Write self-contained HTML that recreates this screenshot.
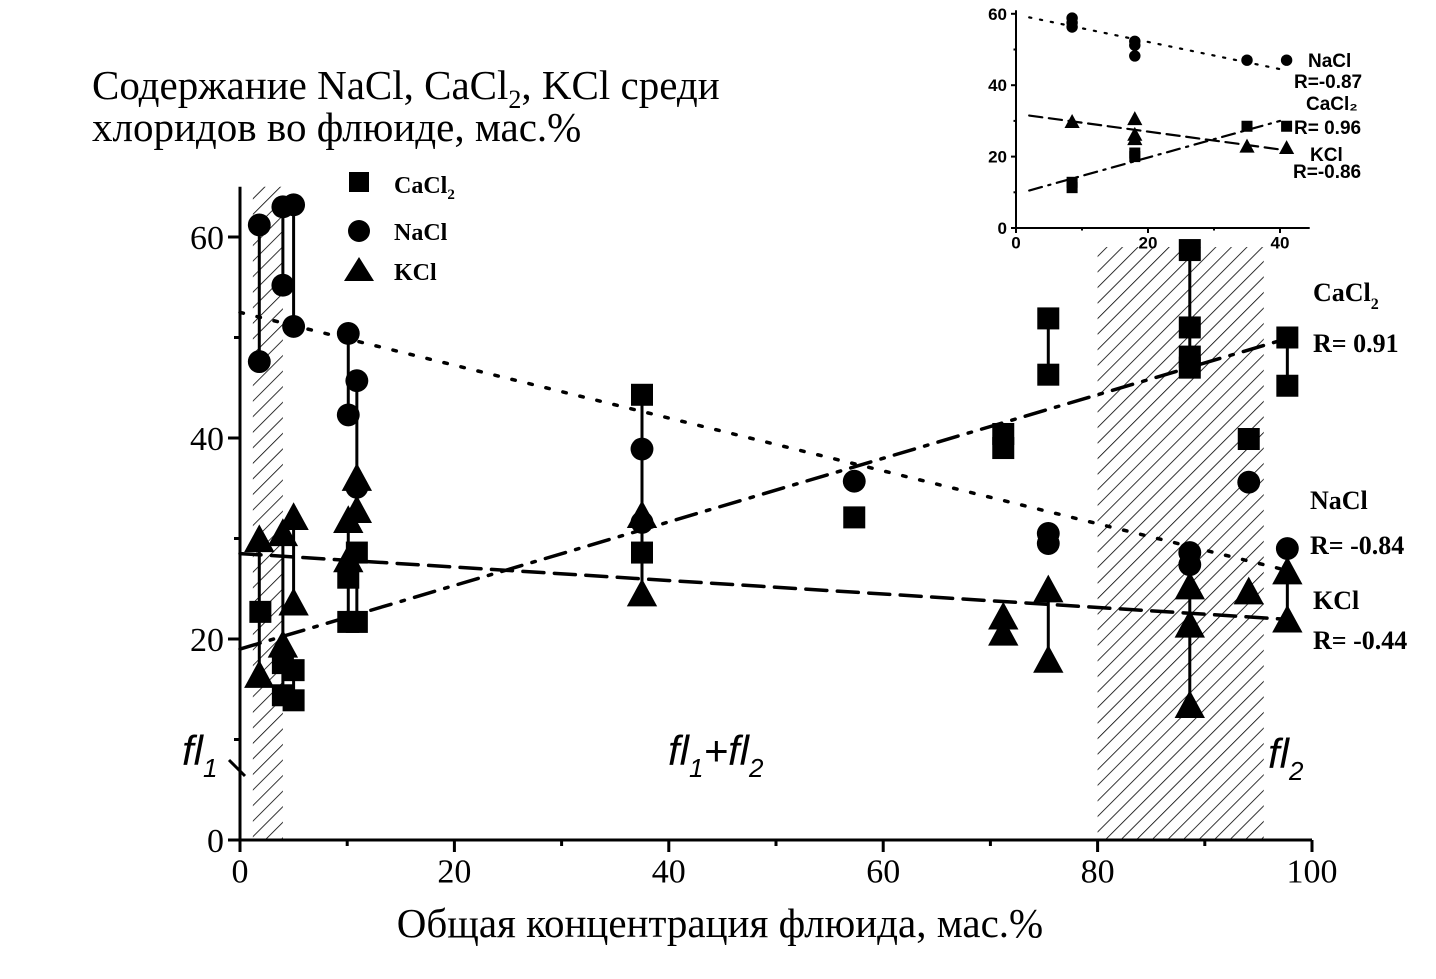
<!DOCTYPE html>
<html><head><meta charset="utf-8"><style>
html,body{margin:0;padding:0;background:#fff;}
svg{display:block;}
.ser{font-family:"Liberation Serif",serif;}
.bold{font-family:"Liberation Serif",serif;font-weight:bold;}
.sb{font-family:"Liberation Sans",sans-serif;font-weight:bold;}
.fl{font-family:"Liberation Sans",sans-serif;font-style:italic;}
</style></head><body>
<svg id="chart" width="1436" height="979" viewBox="0 0 1436 979" xmlns="http://www.w3.org/2000/svg">
<defs>
<pattern id="hatch" patternUnits="userSpaceOnUse" width="11" height="11" patternTransform="rotate(45)">
<line x1="0" y1="0" x2="0" y2="11" stroke="#000" stroke-width="1.6"/>
</pattern>
</defs>
<g id="main"></g>
<g id="inset"></g>
<text class="ser" x="92" y="99" font-size="41">Содержание NaCl, CaCl<tspan font-size="26" dy="9">2</tspan><tspan dy="-9">, KCl среди</tspan></text>
<text class="ser" x="92" y="141" font-size="41">хлоридов во флюиде, мас.%</text>
<text class="ser" x="720" y="937" font-size="41" text-anchor="middle">Общая концентрация флюида, мас.%</text>
<text class="bold" x="394" y="193" font-size="24">CaCl<tspan font-size="15" dy="6">2</tspan></text>
<text class="bold" x="394" y="240" font-size="24">NaCl</text>
<text class="bold" x="394" y="280" font-size="24">KCl</text>
<text class="bold" x="1313" y="301" font-size="26">CaCl<tspan font-size="16" dy="8">2</tspan></text>
<text class="bold" x="1313" y="352" font-size="26">R= 0.91</text>
<text class="bold" x="1310" y="509" font-size="26">NaCl</text>
<text class="bold" x="1310" y="554" font-size="26">R= -0.84</text>
<text class="bold" x="1313" y="609" font-size="26">KCl</text>
<text class="bold" x="1313" y="649" font-size="26">R= -0.44</text>
<text class="fl" x="182" y="765" font-size="42">fl<tspan font-size="26" dy="12">1</tspan></text>
<line x1="229" y1="760" x2="245" y2="776" stroke="#000" stroke-width="3"/>
<text class="fl" x="668" y="765" font-size="42">fl<tspan font-size="26" dy="12">1</tspan><tspan dy="-12">+fl</tspan><tspan font-size="26" dy="12">2</tspan></text>
<text class="fl" x="1268" y="768" font-size="42">fl<tspan font-size="26" dy="12">2</tspan></text>
</svg>
<script>
// Main chart data
const naclX = [1.8,1.8,4.0,4.0,5.0,5.0,10.1,10.1,10.9,10.9,37.5,37.5,57.3,75.4,75.4,88.6,88.6,94.1,97.7];
const naclY = [61.2,47.6,63,55.2,63.2,51.1,50.4,42.3,45.7,35.1,38.9,31.6,35.7,30.5,29.5,28.6,27.4,35.6,29.0];
const caclX = [1.9,4.0,4.0,5.0,5.0,10.1,10.1,10.9,10.9,37.5,37.5,57.3,71.2,71.2,75.4,75.4,88.6,88.6,88.6,88.6,94.1,97.7,97.7];
const caclY = [22.7,17.6,14.4,16.9,13.9,26.1,21.7,28.6,21.7,44.3,28.6,32.1,40.4,39.0,51.9,46.3,58.7,51.0,48.1,47.0,39.9,50.0,45.2];
const kclX = [1.8,1.8,4.0,4.0,5.0,5.0,10.1,10.1,10.9,10.9,37.5,37.5,71.2,71.2,75.4,75.4,88.6,88.6,88.6,94.1,97.7,97.7];
const kclY = [29.9,16.4,30.5,19.4,32.1,23.6,31.8,27.9,36.0,32.8,32.3,24.5,22.2,20.6,24.9,17.9,25.2,21.4,13.4,24.7,26.7,21.9];
const naclTrend = [[0,52.5],[97,27]];
const caclTrend = [[0,19],[98,50]];
const kclTrend = [[0,28.5],[97,22]];
const xTicks = [0,20,40,60,80,100];
const yTicks = [0,20,40,60];
const hatchRanges = [[1.2,4.0,65],[80,95.5,59]];
// Inset data
const inNaclX = [8.5,8.5,8.5,18,18,18,35,41];
const inNaclY = [58.8,57.5,56.3,52.3,51.2,48.2,47,47];
const inCaclX = [8.5,8.5,18,18,35,41];
const inCaclY = [12.8,11.3,21,20,28.5,28.5];
const inKclX = [8.5,18,18,18,35,41];
const inKclY = [29.8,30.6,26.2,25,22.9,22.5];
const inNaclTrend = [[2,59],[40,44.5]];
const inCaclTrend = [[2,10.5],[40,30]];
const inKclTrend = [[2,31.5],[40,22]];
const inXTicks = [0,20,40];
const inYTicks = [0,20,40,60];

const NS="http://www.w3.org/2000/svg";
function mk(parent,tag,attrs){const e=document.createElementNS(NS,tag);for(const k in attrs)e.setAttribute(k,attrs[k]);parent.appendChild(e);return e;}

function drawPlot(g,cfg){
  const X=v=>cfg.x0+v*cfg.sx, Y=v=>cfg.y0-v*cfg.sy;
  (cfg.hatch||[]).forEach(h=>{
    const r=mk(g,'rect',{x:X(h[0]),y:Y(h[2]),width:X(h[1])-X(h[0]),height:Y(0)-Y(h[2]),fill:'url(#hatch)'});
    
    
  });
  const ax=mk(g,'line',{x1:X(0),y1:Y(0),x2:X(cfg.xmax),y2:Y(0),stroke:'#000','stroke-width':cfg.aw});
  
  
  const ay=mk(g,'line',{x1:X(0),y1:Y(0),x2:X(0),y2:Y(cfg.ymax),stroke:'#000','stroke-width':cfg.aw});
  
  
  cfg.xt.forEach(t=>{
    mk(g,'line',{x1:X(t),y1:Y(0),x2:X(t),y2:Y(0)+cfg.tl,stroke:'#000','stroke-width':cfg.aw});
    const m=t+cfg.xt[1]/2;
    if(X(m)<=X(cfg.xmax))mk(g,'line',{x1:X(m),y1:Y(0),x2:X(m),y2:Y(0)+cfg.tl/2,stroke:'#000','stroke-width':cfg.aw});
    const tx=mk(g,'text',{x:X(t),y:Y(0)+cfg.tl+cfg.fs*0.9,'font-size':cfg.fs,'text-anchor':'middle',class:cfg.tc});
    tx.textContent=t;
    
    
  });
  cfg.yt.forEach(t=>{
    mk(g,'line',{x1:X(0)-cfg.tl,y1:Y(t),x2:X(0),y2:Y(t),stroke:'#000','stroke-width':cfg.aw});
    const m=t+cfg.yt[1]/2;
    if(m<cfg.ymax)mk(g,'line',{x1:X(0)-cfg.tl/2,y1:Y(m),x2:X(0),y2:Y(m),stroke:'#000','stroke-width':cfg.aw});
    const tx=mk(g,'text',{x:X(0)-cfg.tl-4,y:Y(t)+cfg.fs*0.35,'font-size':cfg.fs,'text-anchor':'end',class:cfg.tc});
    tx.textContent=t;
    
    
  });
  const tr=[[cfg.nT,`${cfg.lw} ${cfg.lw*4}`,'nacl-trend-line'],[cfg.cT,`${cfg.lw*6} ${cfg.lw*3} ${cfg.lw} ${cfg.lw*3}`,'cacl2-trend-line'],[cfg.kT,`${cfg.lw*6} ${cfg.lw*3}`,'kcl-trend-line']];
  tr.forEach(t=>{
    const l=mk(g,'line',{x1:X(t[0][0][0]),y1:Y(t[0][0][1]),x2:X(t[0][1][0]),y2:Y(t[0][1][1]),stroke:'#000','stroke-width':cfg.lw,'stroke-dasharray':t[1],'stroke-linecap':'round'});
    
    
  });
  if(cfg.conn){
    [[cfg.n[0],cfg.n[1]],[cfg.c[0],cfg.c[1]],[cfg.k[0],cfg.k[1]]].forEach(s=>{
      const groups={};
      s[0].forEach((x,i)=>{(groups[x]=groups[x]||[]).push(s[1][i]);});
      for(const x in groups){const v=groups[x];if(v.length<2)continue;
        const l=mk(g,'line',{x1:X(+x),x2:X(+x),y1:Y(Math.max(...v)),y2:Y(Math.min(...v)),stroke:'#000','stroke-width':3});
        
        }
    });
  }
  const s=cfg.ms;
  cfg.c[0].forEach((x,i)=>{const e=mk(g,'rect',{x:X(x)-s/2,y:Y(cfg.c[1][i])-s/2,width:s,height:s,fill:'#000'});
    });
  cfg.n[0].forEach((x,i)=>{const e=mk(g,'circle',{cx:X(x),cy:Y(cfg.n[1][i]),r:s*0.52,fill:'#000'});
    });
  cfg.k[0].forEach((x,i)=>{const cx=X(x),cy=Y(cfg.k[1][i]),h=s*1.15;
    const e=mk(g,'polygon',{points:`${cx-h*0.6},${cy+h*0.5} ${cx+h*0.6},${cy+h*0.5} ${cx},${cy-h*0.6}`,fill:'#000'});
    });
}
drawPlot(document.getElementById('main'),{x0:240,y0:840,sx:10.72,sy:10.05,xmax:100,ymax:65,xt:xTicks,yt:yTicks,tl:12,fs:34,tc:'ser',aw:3,lw:3.5,ms:22,
  hatch:hatchRanges,conn:true,n:[naclX,naclY],c:[caclX,caclY],k:[kclX,kclY],nT:naclTrend,cT:caclTrend,kT:kclTrend});
drawPlot(document.getElementById('inset'),{x0:1016,y0:228,sx:6.6,sy:3.57,xmax:44.5,ymax:61,xt:inXTicks,yt:inYTicks,tl:5,fs:17,tc:'sb',aw:2,lw:2.2,ms:11,
  hatch:[],conn:false,n:[inNaclX,inNaclY],c:[inCaclX,inCaclY],k:[inKclX,inKclY],nT:inNaclTrend,cT:inCaclTrend,kT:inKclTrend});
const sv=document.getElementById('chart');
let e=mk(sv,'rect',{x:349,y:172,width:20,height:20,fill:'#000'});

e=mk(sv,'circle',{cx:359,cy:231,r:11,fill:'#000'});

e=mk(sv,'polygon',{points:'344,281 374,281 359,257',fill:'#000'});

[['NaCl',1308,67],['R=-0.87',1294,88],['CaCl\u2082',1306,110],['R= 0.96',1294,134],['KCl',1310,161],['R=-0.86',1293,178]].forEach(t=>{
  const x=mk(sv,'text',{x:t[1],y:t[2],'font-size':19,'font-family':'Liberation Sans, sans-serif','font-weight':'bold'});
  x.textContent=t[0];
  
  
});
</script>
</body></html>
